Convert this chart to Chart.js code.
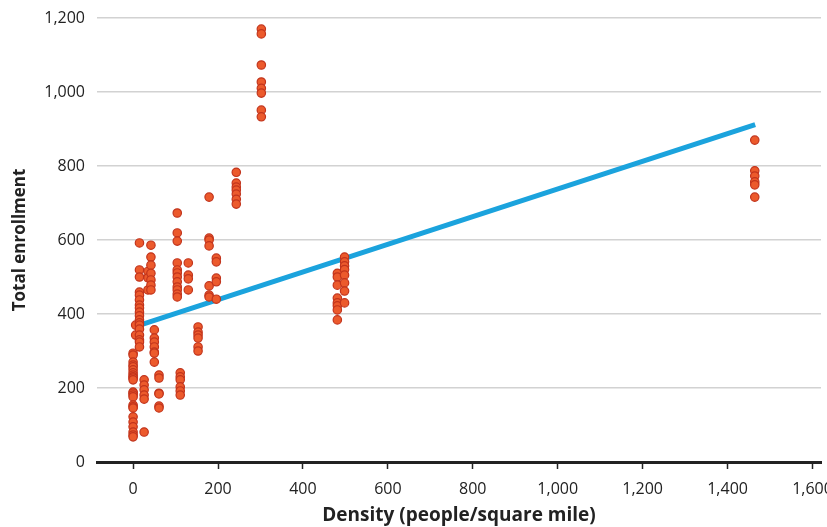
<!DOCTYPE html>
<html lang="en">
<head>
    <title>Total enrollment vs density</title>
    <meta charset="utf-8" />
    <script src="https://cdn.jsdelivr.net/npm/chart.js@4/dist/chart.umd.min.js"></script>
    <style>
        body { margin: 0; background: #fff; }
        #wrap { width: 827px; height: 527px; }
    </style>
    <script type="text/javascript">
        // density of each school district column (people / square mile)
        const densities = [0, 6, 15, 26, 35, 42, 50, 61, 104, 111, 130, 153, 179, 196, 243, 302, 481, 498, 1464];

        // total enrollment values at each density (same order as densities)
        const enrollments = [
            [294, 289, 270, 262, 257, 249, 241, 235, 230, 227, 222, 189, 186, 181, 176, 154, 149, 146, 122, 108, 95, 81, 73, 68],
            [370, 343],
            [592, 519, 500, 459, 451, 438, 424, 416, 405, 395, 384, 376, 370, 359, 343, 330, 324, 311],
            [222, 208, 195, 181, 170, 81],
            [515, 498, 465],
            [586, 554, 532, 510, 492, 478, 465],
            [357, 335, 324, 311, 297, 294, 270],
            [235, 227, 186, 184, 151, 146],
            [673, 619, 597, 538, 519, 511, 500, 487, 473, 465, 454, 446],
            [241, 230, 222, 203, 192, 181],
            [538, 505, 495, 465],
            [365, 351, 343, 335, 311, 300],
            [716, 605, 600, 584, 476, 451, 446],
            [551, 541, 497, 487, 440],
            [783, 754, 743, 735, 724, 710, 697],
            [1170, 1157, 1073, 1027, 1010, 997, 951, 933],
            [510, 500, 478, 443, 430, 422, 411, 384],
            [554, 541, 530, 520, 505, 484, 462, 430],
            [870, 787, 773, 757, 749, 716]
        ];

        // fitted trend line end points
        const trendX = [5, 1465];
        const trendY = [366, 912];

        const xTicks = [0, 200, 400, 600, 800, 1000, 1200, 1400, 1600];
        const yTicks = [0, 200, 400, 600, 800, 1000, 1200];

        const fontName = "'Open Sans', 'DejaVu Sans', sans-serif";

        function onInit() {
            const points = [];
            densities.forEach(function (d, i) {
                for (const e of enrollments[i]) {
                    points.push({ x: d, y: e });
                }
            });
            const trend = trendX.map((x, i) => ({ x: x, y: trendY[i] }));

            const ctx = document.getElementById('chartCanvas').getContext('2d');
            new Chart(ctx, {
                type: 'scatter',
                data: {
                    datasets: [{
                        label: 'Schools',
                        data: points,
                        backgroundColor: '#ec5a2c',
                        borderColor: '#c2341c',
                        borderWidth: 1.2,
                        pointRadius: 4.2,
                        order: 1
                    },
                    {
                        type: 'line',
                        label: 'Trend',
                        data: trend,
                        borderColor: '#1ba3dd',
                        borderWidth: 5,
                        pointRadius: 0,
                        fill: false,
                        order: 2
                    }]
                },
                options: {
                    responsive: true,
                    maintainAspectRatio: false,
                    animation: false,
                    layout: { padding: { top: 18, right: 6, left: 0, bottom: 0 } },
                    plugins: {
                        legend: { display: false },
                        tooltip: { enabled: false }
                    },
                    scales: {
                        x: {
                            type: 'linear',
                            min: -85,
                            max: 1620,
                            afterBuildTicks: s => { s.ticks = xTicks.map(v => ({ value: v })); },
                            afterFit: s => { s.height = 65; s.paddingLeft = 0; s.paddingRight = 0; },
                            grid: {
                                drawOnChartArea: false,
                                drawTicks: true,
                                tickLength: 7,
                                tickWidth: 1.5,
                                color: '#222'
                            },
                            border: { display: true, color: '#222', width: 3 },
                            ticks: {
                                padding: 11,
                                color: '#222',
                                font: { family: fontName, size: 16 },
                                callback: v => v.toLocaleString('en-US')
                            },
                            title: {
                                display: true,
                                text: 'Density (people/square mile)',
                                color: '#222',
                                font: { family: fontName, size: 19, weight: 'bold' },
                                padding: { top: 0, bottom: 0 }
                            }
                        },
                        y: {
                            min: 0,
                            max: 1200,
                            afterBuildTicks: s => { s.ticks = yTicks.map(v => ({ value: v })); },
                            afterFit: s => { s.width = 97; s.paddingTop = 0; s.paddingBottom = 0; },
                            grid: {
                                drawTicks: false,
                                color: '#d2d2d2',
                                lineWidth: 1.5
                            },
                            border: { display: false },
                            ticks: {
                                padding: 12,
                                color: '#222',
                                font: { family: fontName, size: 16 },
                                callback: v => v.toLocaleString('en-US')
                            },
                            title: {
                                display: true,
                                text: 'Total enrollment',
                                color: '#222',
                                font: { family: fontName, size: 17, weight: 'bold' },
                                padding: { top: 10, bottom: 0 }
                            }
                        }
                    }
                }
            });
        }

        window.onload = onInit;
    </script>
</head>
<body>
    <div id="wrap"><canvas id="chartCanvas"></canvas></div>
</body>
</html>
